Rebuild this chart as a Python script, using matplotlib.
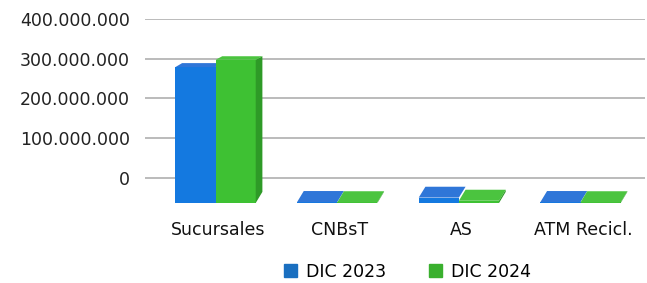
import numpy as np
import matplotlib
matplotlib.use('Agg')
import matplotlib.pyplot as plt
from matplotlib.patches import Patch
from matplotlib.ticker import FuncFormatter

# datos (aprox.)
categorias = ['Sucursales', 'CNBsT', 'AS', 'ATM Recicl.']
dic_2023 = [300e6, 2e6, 12e6, 2e6]
dic_2024 = [316e6, 1.5e6, 5e6, 1.5e6]
series = ['DIC 2023', 'DIC 2024']

y_ticks = [0, 100e6, 200e6, 300e6, 400e6]

# colores: frente, tapa, lateral, leyenda
azul = ('#1479E0', '#2F76D8', '#0F5EB8', '#1A6FC0')
verde = ('#3EC133', '#4BC43F', '#2E9A27', '#3AB02E')

# pseudo 3D (tipo Excel)
piso_frente = -63e6
piso_fondo = -35e6
k_frente = 1.14
k_fondo = 1.08
dx = 0.055
ancho = 0.33

fig = plt.figure(figsize=(6.47, 2.83), dpi=100)
ax = fig.add_axes([0.2241, 0.2728, 0.7728, 0.6601])


def barra3d(x0, v, col, lateral=False):
    x1 = x0 + ancho
    yf = piso_frente + v * k_frente
    yb = piso_fondo + v * k_fondo
    ax.bar(x0, yf - piso_frente, width=ancho, bottom=piso_frente, align='edge',
           color=col[0], linewidth=0, zorder=3)
    ax.fill([x0, x1, x1 + dx, x0 + dx], [yf, yf, yb, yb], color=col[1],
            linewidth=0, zorder=3)
    if lateral:
        ax.fill([x1, x1, x1 + dx, x1 + dx], [piso_frente, yf, yb, piso_fondo],
                color=col[2], linewidth=0, zorder=3)


x = np.arange(len(categorias))
for i in range(len(categorias)):
    barra3d(x[i] - ancho, dic_2023[i], azul)
    barra3d(x[i], dic_2024[i], verde, lateral=True)

ax.set_xlim(-0.58, 3.53)
ax.set_ylim(-70e6, 400e6)
ax.set_yticks(y_ticks)
ax.yaxis.set_major_formatter(FuncFormatter(lambda v, p: f'{int(v):,}'.replace(',', '.')))
ax.set_xticks(x + 0.02)
ax.set_xticklabels(categorias)
ax.grid(axis='y', color='#A8A8A8', linewidth=1.1, zorder=0)
ax.set_axisbelow(True)
for s in ax.spines.values():
    s.set_visible(False)
ax.tick_params(axis='y', length=0, pad=11, labelsize=12.5, labelcolor='#222222')
ax.tick_params(axis='x', length=0, pad=11, labelsize=12.5, labelcolor='#111111')

handles = [Patch(color=azul[3], label=series[0]), Patch(color=verde[3], label=series[1])]
fig.legend(handles=handles, loc='center', bbox_to_anchor=(0.63, 0.04), ncol=2,
           frameon=False, fontsize=12.5, handlelength=0.75, handleheight=0.75,
           handletextpad=0.5, columnspacing=2.5)

fig.savefig('out.png', dpi=100)
